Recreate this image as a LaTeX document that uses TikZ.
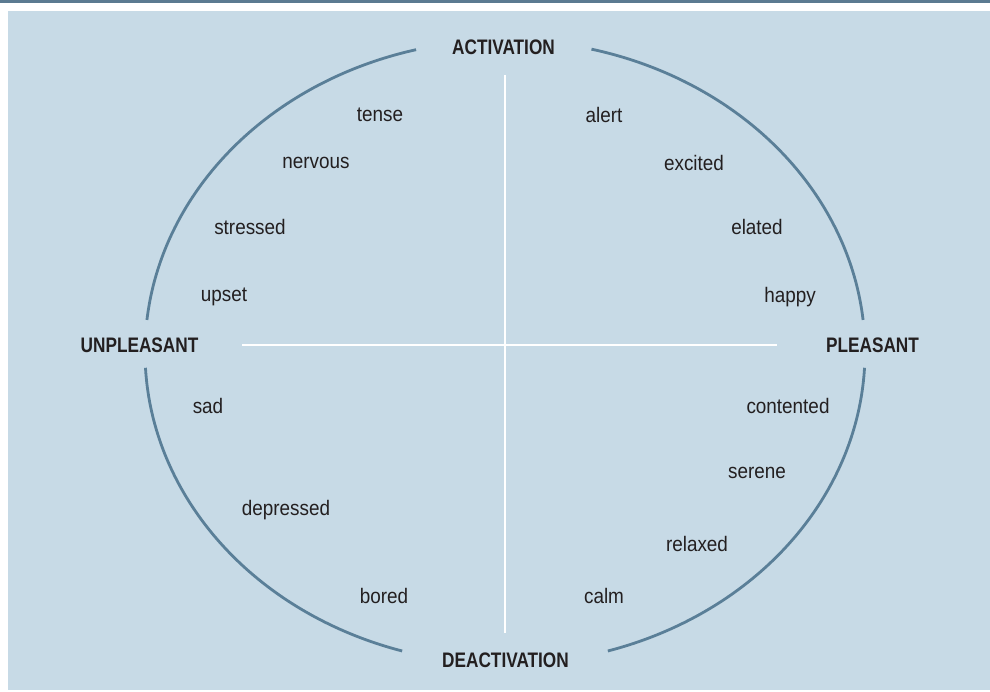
\documentclass[tikz,border=0pt]{standalone}
\usepackage{fontspec}
\setmainfont{Liberation Sans}[FakeStretch=0.82]
\newfontfamily\moodfont{Liberation Sans}[FakeStretch=0.9]
\definecolor{bgblue}{HTML}{C7DAE6}
\definecolor{ringblue}{HTML}{5A7F98}
\definecolor{barblue}{HTML}{5B7A91}
\definecolor{txt}{HTML}{231F20}
\begin{document}
\begin{tikzpicture}[x=1pt,y=-1pt,
  axislabel/.style={font=\fontsize{21}{23}\selectfont\bfseries, text=txt, inner sep=0pt},
  mood/.style={font=\moodfont\fontsize{21}{23}\selectfont, text=txt, inner sep=0pt},
  ring/.style={draw=ringblue, line width=2.8pt},
  axis/.style={draw=white, line width=2pt}]
\useasboundingbox (0,0) rectangle (990,691);
\fill[white] (0,0) rectangle (990,691);
\fill[barblue] (0,0) rectangle (990,2.5);
\fill[bgblue] (8,11) rectangle (990,690);
% ring arcs
\draw[ring] plot[domain=-76.1:-5.9, samples=80] ({505+360*cos(\x)}, {352+312*sin(\x)});
\draw[ring] plot[domain=2.9:73.4, samples=80] ({505+360*cos(\x)}, {352+312*sin(\x)});
\draw[ring] plot[domain=106.6:177.1, samples=80] ({505+360*cos(\x)}, {352+312*sin(\x)});
\draw[ring] plot[domain=185.9:255.7, samples=80] ({505+360*cos(\x)}, {352+312*sin(\x)});
% axes
\coordinate (vtop) at (505,75);
\coordinate (vbot) at (505,633);
\coordinate (hl) at (242,345);
\coordinate (hr) at (777,345);
\draw[axis] (vtop) -- (vbot);
\draw[axis] (hl) -- (hr);
% axis labels
\node[axislabel] (act) at (503.5,47.5) {ACTIVATION};
\node[axislabel] (deact) at (505.5,660) {DEACTIVATION};
\node[axislabel] (unpl) at (139.5,345) {UNPLEASANT};
\node[axislabel] (pl) at (872.5,345) {PLEASANT};
% moods
\node[mood] (tense) at (380,115) {tense};
\node[mood] (nervous) at (316,163) {nervous};
\node[mood] (stressed) at (250,227) {stressed};
\node[mood] (upset) at (224,297) {upset};
\node[mood] (sad) at (208,406) {sad};
\node[mood] (depressed) at (286,510) {depressed};
\node[mood] (bored) at (384,596) {bored};
\node[mood] (alert) at (604,115) {alert};
\node[mood] (excited) at (694,163) {excited};
\node[mood] (elated) at (757,227) {elated};
\node[mood] (happy) at (790,297) {happy};
\node[mood] (contented) at (788,406) {contented};
\node[mood] (serene) at (757,473) {serene};
\node[mood] (relaxed) at (697,544) {relaxed};
\node[mood] (calm) at (604,596) {calm};
\end{tikzpicture}
\end{document}
